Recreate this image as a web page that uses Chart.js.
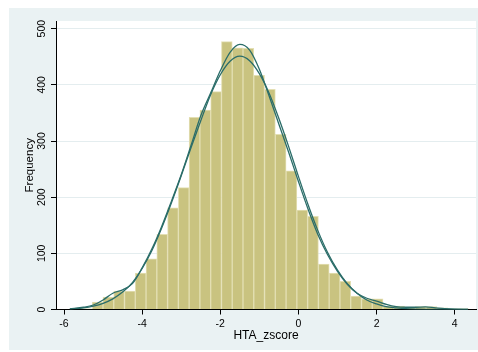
<!DOCTYPE html>
<html>
<head>
<meta charset="utf-8">
<script src="https://cdn.jsdelivr.net/npm/chart.js@4.4.1/dist/chart.umd.min.js"></script>
<style>
  html, body { margin: 0; padding: 0; background: #fff; }
</style>
</head>
<body>
<canvas id="histChart" width="478" height="352"></canvas>
<script>
// histogram bins
const binStart = -5.83;
const binWidth = 0.2757;
const binCounts = [2, 1, 13, 22, 33, 33, 65, 90, 134, 181, 217, 342, 355, 388, 477, 466, 465, 417, 392,
                   312, 247, 177, 166, 81, 65, 50, 24, 19, 19, 6, 6, 3, 5, 5, 3, 1, 1];

// overlaid curves, sampled by eye
const curveX = [-5.85, -5.5, -5.25, -5.0, -4.75, -4.5, -4.25, -4.0, -3.75, -3.5, -3.25, -3.0, -2.75, -2.5,
                -2.25, -2.0, -1.75, -1.5, -1.25, -1.0, -0.75, -0.5, -0.25, 0, 0.25, 0.5, 0.75, 1.0,
                1.25, 1.5, 1.75, 2.0, 2.25, 2.5, 2.75, 3.0, 3.25, 3.5, 3.75, 4.0, 4.34];
const kdensityY = [1, 4, 8, 17, 29, 35, 46, 74, 108, 148, 193, 240, 292, 345, 385, 425, 458, 472, 462,
                   428, 380, 330, 280, 228, 178, 133, 97, 68, 45, 29, 20, 15, 9, 5, 4, 4, 4.5, 3, 1.5, 0.5, 0];
const normalY = [1, 3, 6, 11, 19, 31, 48, 73, 105, 145, 190, 238, 288, 336, 382, 418, 442, 451, 443,
                 420, 385, 340, 290, 237, 186, 140, 101, 70, 46, 29, 17, 10, 5, 3, 1.5, 0.7, 0.3, 0.1, 0, 0, 0];

const xTicks = [-6, -4, -2, 0, 2, 4];
const yTicks = [0, 100, 200, 300, 400, 500];

const binCenters = binCounts.map((_, i) => binStart + binWidth * (i + 0.5));

const curveColor = '#2b6d69';
const fontFamily = '"Liberation Sans", Arial, sans-serif';

// stata-like light blue frame + white plot region
const statBackground = {
    id: 'statBackground',
    beforeDraw(chart) {
        const { ctx, chartArea: a } = chart;
        ctx.save();
        ctx.fillStyle = '#ffffff';
        ctx.fillRect(0, 0, chart.width, chart.height);
        ctx.fillStyle = '#eaf2f3';
        ctx.fillRect(9, 8, chart.width - 9, chart.height - 10);
        ctx.fillStyle = '#ffffff';
        ctx.fillRect(a.left, a.top, a.right - a.left, a.bottom - a.top);
        ctx.restore();
    }
};

new Chart(document.getElementById('histChart'), {
    type: 'bar',
    data: {
        datasets: [
            {
                type: 'line',
                label: 'kdensity',
                data: curveX.map((x, i) => ({ x: x, y: kdensityY[i] })),
                borderColor: curveColor,
                borderWidth: 1.3,
                pointRadius: 0,
                cubicInterpolationMode: 'monotone',
                fill: false,
                order: 1
            },
            {
                type: 'line',
                label: 'normal',
                data: curveX.map((x, i) => ({ x: x, y: normalY[i] })),
                borderColor: curveColor,
                borderWidth: 1.3,
                pointRadius: 0,
                cubicInterpolationMode: 'monotone',
                fill: false,
                order: 1
            },
            {
                type: 'bar',
                label: 'Frequency',
                data: binCenters.map((x, i) => ({ x: x, y: binCounts[i] })),
                backgroundColor: '#c9c380',
                borderColor: '#e3dfb3',
                borderWidth: 1,
                borderSkipped: 'start',
                barPercentage: 1,
                categoryPercentage: 1,
                order: 2
            }
        ]
    },
    options: {
        responsive: false,
        animation: false,
        layout: { padding: { top: 21, right: 2, left: 0, bottom: 0 } },
        plugins: {
            legend: { display: false },
            tooltip: { enabled: false }
        },
        scales: {
            x: {
                type: 'linear',
                min: -6.205,
                max: 4.545,
                offset: false,
                afterBuildTicks: s => { s.ticks = xTicks.map(v => ({ value: v })); },
                afterFit: s => { s.height = 42.5; },
                grid: { drawOnChartArea: false, offset: false, tickLength: 5, tickColor: '#000' },
                border: { color: '#000', width: 1 },
                ticks: { color: '#000', font: { family: fontFamily, size: 10.5 }, padding: 3, maxRotation: 0, autoSkip: false },
                title: { display: true, text: 'HTA_zscore', color: '#000', font: { family: fontFamily, size: 12 }, padding: { top: 0, bottom: 9 } }
            },
            y: {
                type: 'linear',
                min: 0,
                max: 513.7,
                afterBuildTicks: s => { s.ticks = yTicks.map(v => ({ value: v })); },
                afterFit: s => { s.width = 56; },
                grid: {
                    color: c => (c.tick && c.tick.value === 0) ? 'rgba(0,0,0,0)' : '#e4edef',
                    tickColor: '#000',
                    tickLength: 5
                },
                border: { color: '#000', width: 1 },
                ticks: { color: '#000', font: { family: fontFamily, size: 10.5 }, minRotation: 90, maxRotation: 90, crossAlign: 'center', padding: 0 },
                title: { display: true, text: 'Frequency', color: '#000', font: { family: fontFamily, size: 11.5 }, padding: { top: 23, bottom: 0 } }
            }
        }
    },
    plugins: [statBackground]
});
</script>
</body>
</html>
